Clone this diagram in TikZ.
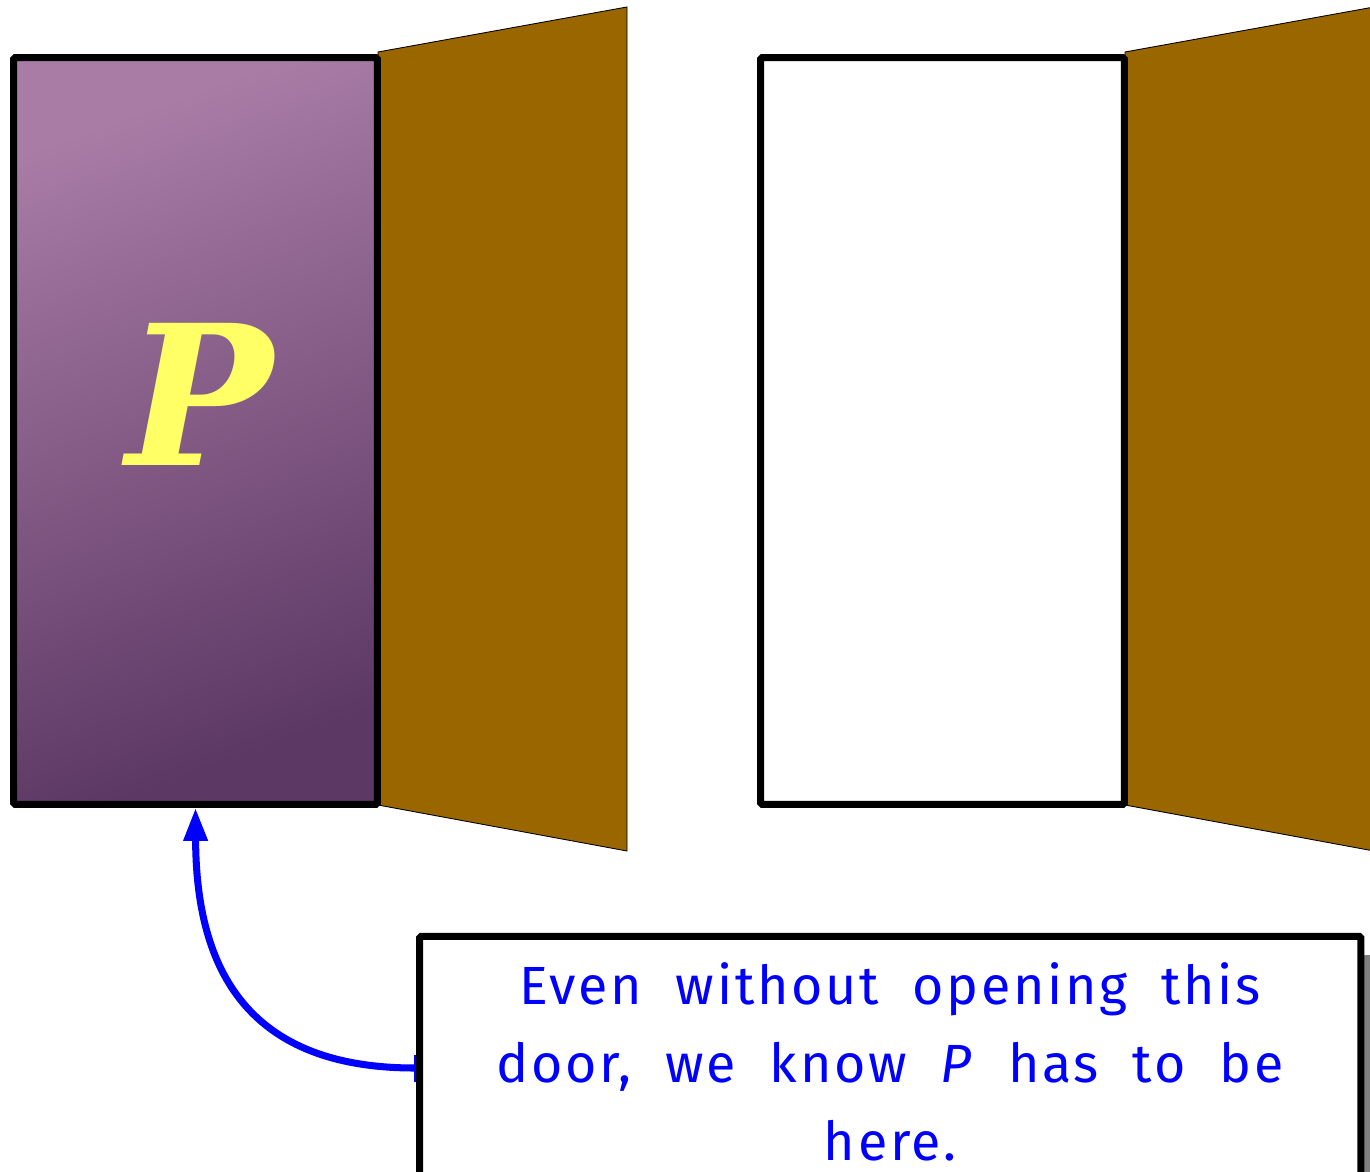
\documentclass[tikz,border=0pt]{standalone}
\usepackage{fontspec}
\usetikzlibrary{arrows.meta}
\newfontfamily\pfont{DejaVu Serif}
\newfontfamily\notefont[WordSpace=2.0, LetterSpace=5]{Fira Sans}
\definecolor{doorbrown}{HTML}{996600}
\definecolor{pyellow}{HTML}{FFFF66}
\definecolor{noteblue}{HTML}{0000FF}
\definecolor{shadowgray}{HTML}{808080}
\definecolor{purpletop}{RGB}{168,124,165}
\definecolor{purplebottom}{RGB}{92,56,100}
\tikzset{
  frame/.style={draw=black, line width=4pt, rounded corners=1pt, minimum width=7.28cm, minimum height=14.94cm, inner sep=0pt},
  panel/.style={fill=doorbrown, draw=black, line width=0.5pt},
  notebox/.style={draw=black, fill=white, line width=4pt, rounded corners=1pt, minimum width=18.83cm, minimum height=5.27cm, inner sep=0pt},
  notetext/.style={inner sep=0pt, align=center, text=noteblue, font=\notefont\fontsize{30.6}{44.4}\selectfont},
  pointer/.style={draw=noteblue, line width=4pt, {Bar[width=0.54cm, line width=1.2pt]}-{Triangle[length=0.66cm, width=0.46cm]}}
}
\begin{document}
\begin{tikzpicture}[x=0.02cm, y=-0.02cm]
\useasboundingbox (0,0) rectangle (1370,1172);
\clip (0,0) rectangle (1370,1172);
% door panels
\draw[panel] (378,52) -- (627,7) -- (627,851) -- (378,805) -- cycle;
\draw[panel] (1125,52) -- (1374,7) -- (1374,851) -- (1125,805) -- cycle;
% frames
\node[frame, top color=purpletop, bottom color=purplebottom, shading angle=20] (leftdoor) at (195.5,431) {};
\node[frame, fill=white] (rightdoor) at (942.5,431) {};
\node[text=pyellow, font=\pfont\bfseries\itshape\fontsize{111}{111}\selectfont, inner sep=0pt] (plabel) at (200,394.5) {P};
% note
\fill[shadowgray] (429,955) rectangle (1380,1230);
\node[notebox] (note) at (890.25,1068) {};
\node[notetext] (notetxt) at (890,1062) {Even without opening this\\door, we know \textit{P} has to be\\here.};
\draw[pointer] (note.west) .. controls (240,1068) and (196,960) .. (leftdoor.south);
\end{tikzpicture}
\end{document}
